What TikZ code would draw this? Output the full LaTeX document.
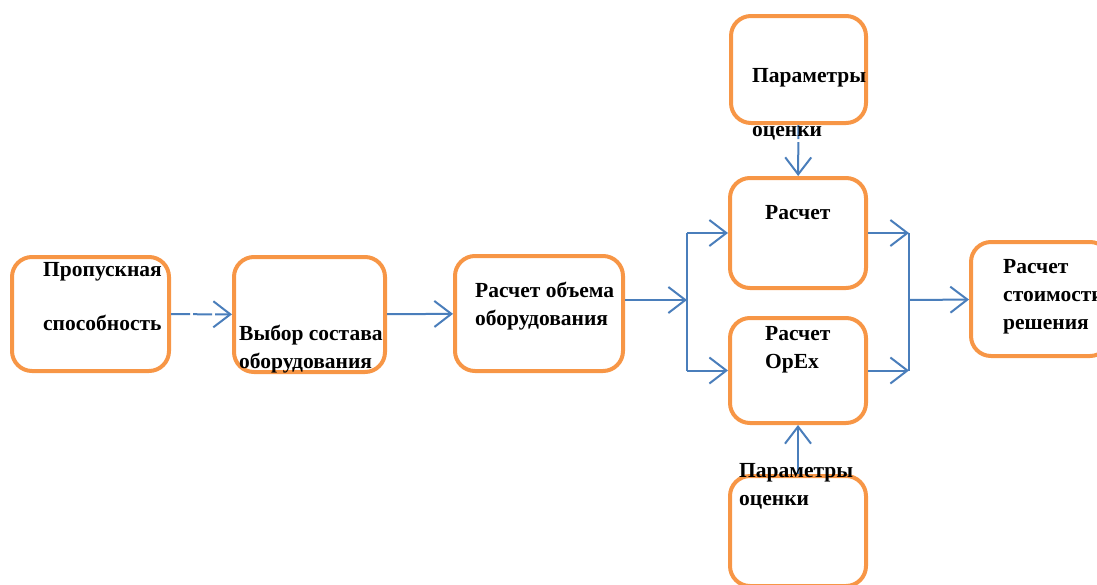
\documentclass[tikz,border=0pt]{standalone}
\usepackage{fontspec}
\setmainfont{Liberation Serif}
\usepackage{xcolor}
\usetikzlibrary{arrows.meta}
\definecolor{boxorange}{HTML}{F79646}
\definecolor{lineblue}{HTML}{4A7EBB}

\begin{document}
\begin{tikzpicture}[x=1pt,y=-1pt,
    block/.style={draw=boxorange, line width=4pt, rounded corners=20pt, inner sep=0pt},
    boxtext/.style={anchor=north west, inner sep=0pt, align=left, font=\fontsize{21.5}{28}\selectfont\bfseries},
    flow/.style={draw=lineblue, line width=2pt, -{Straight Barb[length=17pt,width=26pt]}},
    link/.style={draw=lineblue, line width=2pt}]
    \clip (0,0) rectangle (1097,584);
    \node[block, minimum width=157pt, minimum height=114pt] (thru) at (90.5,314) {};
    \node[block, minimum width=151pt, minimum height=115pt] (choice) at (309.5,314.5) {};
    \node[block, minimum width=168pt, minimum height=115pt] (volume) at (539,313.5) {};
    \node[block, minimum width=135pt, minimum height=107pt] (param1) at (798.5,69.5) {};
    \node[block, minimum width=136pt, minimum height=110pt] (capex) at (798,233) {};
    \node[block, minimum width=136pt, minimum height=105pt] (opex) at (798,370.5) {};
    \node[block, minimum width=136pt, minimum height=110pt] (param2) at (798,531) {};
    \node[block, minimum width=139pt, minimum height=114pt] (total) at (1040.5,299) {};
    \coordinate (fork) at (687,300);
    \coordinate (join) at (909,300);
    \draw[flow, dash pattern=on 19pt off 3pt] (thru) -- (choice);
    \draw[flow] (choice) -- (volume);
    \draw[flow] (volume.east |- fork) -- (fork);
    \draw[link] (fork |- capex) -- (fork |- opex);
    \draw[flow] (fork |- capex) -- (capex);
    \draw[flow] (fork |- opex) -- (opex);
    \draw[flow] (capex) -- (join |- capex);
    \draw[flow] (opex) -- (join |- opex);
    \draw[link] (join |- capex) -- (join |- opex);
    \draw[flow] (join) -- (total);
    \draw[flow, dash pattern=on 14pt off 3pt on 50pt] (param1) -- (capex);
    \draw[flow] (param2) -- (opex);
    \node[boxtext] (thrutext) at (43,256.4) {\strut Пропускная\\[26pt]способность};
    \node[boxtext] (choicetext) at (239,320.4) {\strut Выбор состава\\оборудования};
    \node[boxtext] (volumetext) at (475,277.4) {\strut Расчет объема\\оборудования};
    \node[boxtext] (param1text) at (752,62.4) {\strut Параметры\\[26pt]оценки};
    \node[boxtext] (capextext) at (765,199.4) {\strut Расчет};
    \node[boxtext] (opextext) at (765,320.4) {\strut Расчет\\OpEx};
    \node[boxtext] (param2text) at (739,457.4) {\strut Параметры\\оценки};
    \node[boxtext] (totaltext) at (1003,253.4) {\strut Расчет\\стоимости\\решения};
\end{tikzpicture}
\end{document}
